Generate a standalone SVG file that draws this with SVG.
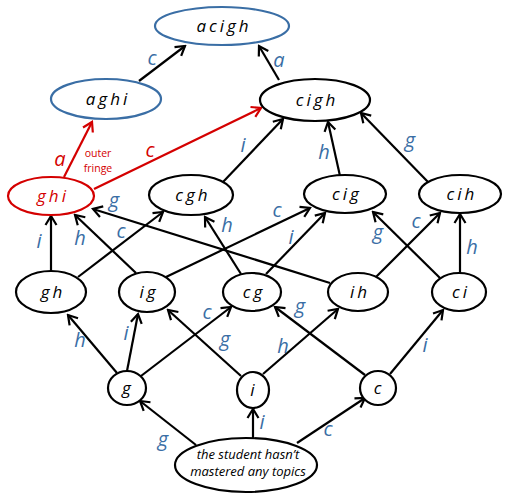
<svg xmlns="http://www.w3.org/2000/svg" width="512" height="498" viewBox="0 0 512 498">
<style>
.n{fill:#fff;stroke:#000;stroke-width:2.2}
.b{fill:#fff;stroke:#3a6ea5;stroke-width:2.2}
.r{fill:#fff;stroke:#d40000;stroke-width:2.2}
.t{font-family:"Open Sans","DejaVu Sans",sans-serif;font-style:italic;font-size:17px;letter-spacing:3px;text-anchor:middle;fill:#000}
.e{stroke:#000;stroke-width:2.2;fill:none;marker-end:url(#ak)}
.er{stroke:#d40000;stroke-width:2.2;fill:none;marker-end:url(#ar)}
.l{font-family:"Open Sans","DejaVu Sans",sans-serif;font-style:italic;font-size:20px;fill:#3a6ea5;text-anchor:middle}
.lr{font-family:"Open Sans","DejaVu Sans",sans-serif;font-style:italic;font-size:20px;fill:#d40000;text-anchor:middle}
.of{font-family:"Open Sans","DejaVu Sans",sans-serif;font-size:10.5px;fill:#d40000;text-anchor:middle}
.bt{font-family:"Open Sans","DejaVu Sans",sans-serif;font-style:italic;font-size:13px;text-anchor:middle;fill:#000}
</style>
<defs>
<marker id="ak" markerUnits="userSpaceOnUse" markerWidth="14" markerHeight="14" viewBox="-12 -7 14 14" refX="0" refY="0" orient="auto"><path d="M-9,-5.5 L0,0 L-9,5.5" fill="none" stroke="#000" stroke-width="2.2"/></marker>
<marker id="ar" markerUnits="userSpaceOnUse" markerWidth="14" markerHeight="14" viewBox="-12 -7 14 14" refX="0" refY="0" orient="auto"><path d="M-9,-5.5 L0,0 L-9,5.5" fill="none" stroke="#d40000" stroke-width="2.2"/></marker>
</defs>
<g id="connectors">
<line class="e" x1="139" y1="81" x2="185" y2="46"/>
<line class="e" x1="279" y1="80" x2="259" y2="46"/>
<line class="er" x1="64" y1="177" x2="92" y2="122"/>
<line class="er" x1="94" y1="189" x2="261" y2="108"/>
<line class="e" x1="223" y1="182" x2="283" y2="119"/>
<line class="e" x1="340" y1="176" x2="328" y2="122"/>
<line class="e" x1="428" y1="182" x2="361" y2="113"/>
<line class="e" x1="51" y1="271" x2="51" y2="216"/>
<line class="e" x1="136" y1="273" x2="75" y2="215"/>
<line class="e" x1="330" y1="283" x2="93" y2="209"/>
<line class="e" x1="78" y1="277" x2="163" y2="212"/>
<line class="e" x1="241" y1="274" x2="205" y2="217"/>
<line class="e" x1="166" y1="277" x2="310" y2="208"/>
<line class="e" x1="266" y1="274" x2="325" y2="213"/>
<line class="e" x1="440" y1="278" x2="373" y2="212"/>
<line class="e" x1="376" y1="277" x2="440" y2="213"/>
<line class="e" x1="460" y1="273" x2="460" y2="214"/>
<line class="e" x1="117" y1="373" x2="68" y2="315"/>
<line class="e" x1="127" y1="371" x2="138" y2="314"/>
<line class="e" x1="141" y1="376" x2="231" y2="307"/>
<line class="e" x1="241" y1="376" x2="168" y2="310"/>
<line class="e" x1="263" y1="374" x2="338" y2="309"/>
<line class="e" x1="365" y1="375" x2="275" y2="307"/>
<line class="e" x1="390" y1="374" x2="443" y2="310"/>
<line class="e" x1="196" y1="445" x2="140" y2="401"/>
<line class="e" x1="253" y1="438" x2="253" y2="409"/>
<line class="e" x1="297" y1="443" x2="365" y2="398"/>
</g>
<g id="edge-labels">
<text class="l" x="152" y="65">c</text>
<text class="l" x="279" y="67">a</text>
<text class="lr" x="60" y="166">a</text>
<text class="lr" x="150" y="157">c</text>
<text class="l" x="243" y="152">i</text>
<text class="l" x="324" y="159">h</text>
<text class="l" x="410" y="147">g</text>
<text class="l" x="39" y="248">i</text>
<text class="l" x="80" y="245">h</text>
<text class="l" x="114" y="207">g</text>
<text class="l" x="121" y="238">c</text>
<text class="l" x="227" y="232">h</text>
<text class="l" x="277" y="217">c</text>
<text class="l" x="291" y="244">i</text>
<text class="l" x="378" y="239">g</text>
<text class="l" x="416" y="228">c</text>
<text class="l" x="472" y="254">h</text>
<text class="l" x="80" y="347">h</text>
<text class="l" x="126" y="340">i</text>
<text class="l" x="207" y="319">c</text>
<text class="l" x="225" y="346">g</text>
<text class="l" x="283" y="353">h</text>
<text class="l" x="300" y="313">g</text>
<text class="l" x="425" y="352">i</text>
<text class="l" x="163" y="446">g</text>
<text class="l" x="262" y="429">i</text>
<text class="l" x="328" y="436">c</text>
<text class="of" x="98" y="157">outer</text>
<text class="of" x="98" y="172">fringe</text>
</g>
<g id="acigh"><ellipse class="b" cx="222" cy="26" rx="67" ry="19"/><text class="t" x="224" y="32">acigh</text></g>
<g id="aghi"><ellipse class="b" cx="106" cy="99" rx="55" ry="20"/><text class="t" x="108" y="105">aghi</text></g>
<g id="cigh"><ellipse class="n" cx="315" cy="100" rx="55" ry="21"/><text class="t" x="317" y="106">cigh</text></g>
<g id="ghi"><ellipse class="r" cx="51" cy="196" rx="43" ry="19"/><text class="t" x="53" y="202" style="fill:#d40000">ghi</text></g>
<g id="cgh"><ellipse class="n" cx="191" cy="195" rx="42" ry="20"/><text class="t" x="193" y="201">cgh</text></g>
<g id="cig"><ellipse class="n" cx="345" cy="194" rx="41" ry="19"/><text class="t" x="347" y="200">cig</text></g>
<g id="cih"><ellipse class="n" cx="460" cy="194" rx="41" ry="19"/><text class="t" x="462" y="200">cih</text></g>
<g id="gh"><ellipse class="n" cx="51" cy="292" rx="35" ry="21"/><text class="t" x="53" y="298">gh</text></g>
<g id="ig"><ellipse class="n" cx="147" cy="292" rx="28" ry="20"/><text class="t" x="149" y="298">ig</text></g>
<g id="cg"><ellipse class="n" cx="252" cy="292" rx="29" ry="19"/><text class="t" x="254" y="298">cg</text></g>
<g id="ih"><ellipse class="n" cx="358" cy="292" rx="30" ry="19"/><text class="t" x="360" y="298">ih</text></g>
<g id="ci"><ellipse class="n" cx="459" cy="292" rx="27" ry="19"/><text class="t" x="461" y="298">ci</text></g>
<g id="g"><ellipse class="n" cx="127" cy="388" rx="19" ry="17"/><text class="t" x="128" y="394">g</text></g>
<g id="i"><ellipse class="n" cx="253" cy="390" rx="16" ry="18"/><text class="t" x="254" y="396">i</text></g>
<g id="c"><ellipse class="n" cx="378" cy="388" rx="18" ry="17"/><text class="t" x="379" y="394">c</text></g>
<g id="none"><ellipse class="n" cx="246" cy="465" rx="71" ry="27"/>
<text class="bt" x="248" y="459">the student hasn’t</text>
<text class="bt" x="248" y="476">mastered any topics</text></g>
</svg>
